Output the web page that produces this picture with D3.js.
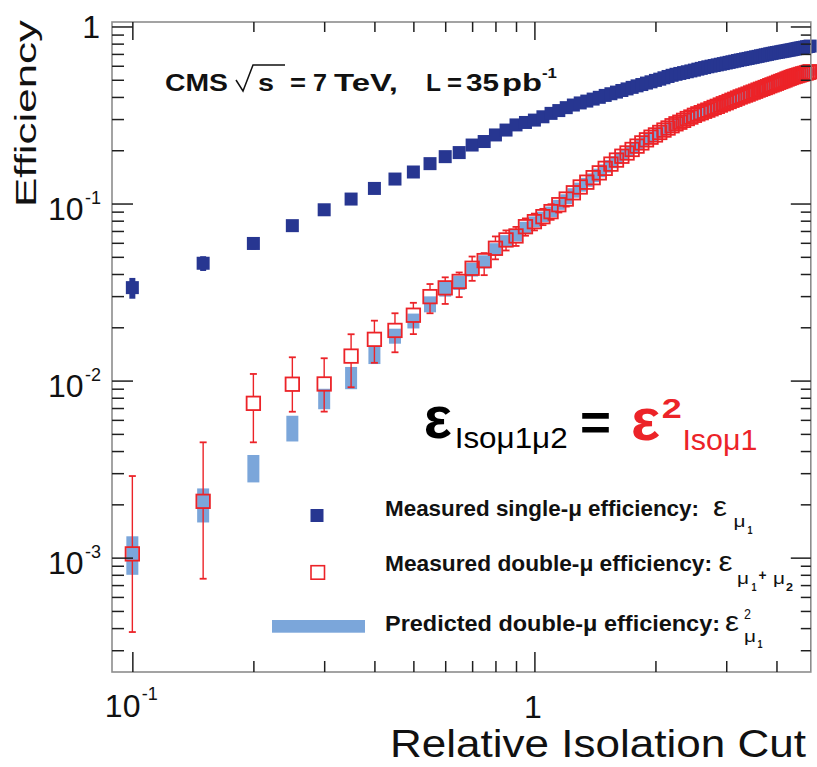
<!DOCTYPE html>
<html>
<head>
<meta charset="utf-8">
<script src="https://cdn.jsdelivr.net/npm/d3@7"></script>
<style>
  html, body { margin: 0; padding: 0; background: #ffffff; }
  svg { display: block; }
  text { font-family: "Liberation Sans", Arial, Helvetica, sans-serif; }
</style>
</head>
<body>
<svg id="chart" width="817" height="767"></svg>
<script>
// Relative isolation cut values (x)
const cutValues = [
  0.10,0.15,0.20,0.25,0.30,0.35,0.40,0.45,0.50,0.55,
  0.60,0.65,0.70,0.75,0.80,0.85,0.90,0.95,1.00,1.05,
  1.10,1.15,1.20,1.25,1.30,1.35,1.40,1.45,1.50,1.55,
  1.60,1.65,1.70,1.75,1.80,1.85,1.90,1.95,2.00,2.05,
  2.10,2.15,2.20,2.25,2.30,2.35,2.40,2.45,2.50,2.55,
  2.60,2.65,2.70,2.75,2.80,2.85,2.90,2.95,3.00,3.05,
  3.10,3.15,3.20,3.25,3.30,3.35,3.40,3.45,3.50,3.55,
  3.60,3.65,3.70,3.75,3.80,3.85,3.90,3.95,4.00,4.05,
  4.10,4.15,4.20,4.25,4.30,4.35,4.40,4.45,4.50,4.55,
  4.60,4.65,4.70,4.75,4.80,4.85
];

// Measured single-muon isolation efficiency
const singleEff = [
  0.0335,0.0460,0.0595,0.0750,0.0922,0.1060,0.1217,0.1375,0.1507,0.1680,
  0.1840,0.1940,0.2140,0.2240,0.2440,0.2600,0.2780,0.2870,0.2960,0.3090,
  0.3230,0.3350,0.3480,0.3600,0.3700,0.3790,0.3890,0.3980,0.4080,0.4170,
  0.4260,0.4350,0.4440,0.4530,0.4620,0.4700,0.4790,0.4870,0.4960,0.5040,
  0.5130,0.5220,0.5300,0.5370,0.5430,0.5490,0.5550,0.5610,0.5670,0.5740,
  0.5800,0.5860,0.5920,0.5970,0.6020,0.6070,0.6120,0.6170,0.6220,0.6270,
  0.6320,0.6370,0.6420,0.6470,0.6510,0.6560,0.6600,0.6650,0.6690,0.6740,
  0.6780,0.6830,0.6870,0.6920,0.6960,0.7010,0.7050,0.7090,0.7130,0.7160,
  0.7200,0.7240,0.7270,0.7310,0.7350,0.7380,0.7420,0.7460,0.7500,0.7540,
  0.7570,0.7610,0.7640,0.7680,0.7710,0.7750
];
const singleErr = [
  0.0045,0.0044,0.0045,0.0048,0.0050,0.0052,0.0054,0.0056,0.0058,0.0060,
  0.0062,0.0063,0.0065,0.0066,0.0068,0.0069,0.0071,0.0072,0.0073,0.0074,
  0.0075,0.0076,0.0077,0.0078,0.0079,0.0080,0.0081,0.0081,0.0082,0.0083,
  0.0083,0.0084,0.0084,0.0085,0.0085,0.0086,0.0086,0.0087,0.0087,0.0087,
  0.0088,0.0088,0.0088,0.0088,0.0089,0.0089,0.0089,0.0089,0.0089,0.0089,
  0.0089,0.0089,0.0089,0.0089,0.0089,0.0089,0.0089,0.0088,0.0088,0.0088,
  0.0088,0.0088,0.0087,0.0087,0.0087,0.0087,0.0086,0.0086,0.0086,0.0085,
  0.0085,0.0085,0.0084,0.0084,0.0083,0.0083,0.0083,0.0082,0.0082,0.0081,
  0.0081,0.0081,0.0080,0.0080,0.0079,0.0079,0.0078,0.0078,0.0077,0.0077,
  0.0076,0.0076,0.0075,0.0075,0.0074,0.0074
];

// Measured double-muon isolation efficiency, with asymmetric errors
const doubleEff = [
  0.00105,0.00208,0.00744,0.00954,0.00957,0.01375,0.0171,0.0192,0.0234,0.0298,
  0.0334,0.0363,0.0431,0.0476,0.0559,0.0623,0.0656,0.0740,0.0790,0.0843,
  0.0900,0.0985,0.1060,0.1150,0.1240,0.1320,0.1400,0.1490,0.1580,0.1670,
  0.1760,0.1850,0.1930,0.2020,0.2110,0.2200,0.2290,0.2370,0.2440,0.2520,
  0.2600,0.2670,0.2750,0.2820,0.2880,0.2950,0.3020,0.3080,0.3150,0.3210,
  0.3260,0.3320,0.3370,0.3430,0.3490,0.3540,0.3600,0.3660,0.3710,0.3770,
  0.3830,0.3880,0.3940,0.4000,0.4050,0.4100,0.4150,0.4210,0.4260,0.4310,
  0.4370,0.4420,0.4470,0.4520,0.4570,0.4630,0.4680,0.4730,0.4780,0.4840,
  0.4890,0.4940,0.4990,0.5050,0.5100,0.5150,0.5200,0.5240,0.5280,0.5320,
  0.5360,0.5400,0.5430,0.5470,0.5510,0.5550
];
const doubleErrLow = [
  0.00067,0.00132,0.00296,0.00287,0.00289,0.00458,0.0045,0.00475,0.0051,0.0058,
  0.0063,0.0067,0.0065,0.0082,0.0075,0.0080,0.0080,0.0082,0.0085,0.0088,
  0.0091,0.0095,0.0099,0.0103,0.0106,0.0110,0.0113,0.0116,0.0119,0.0122,
  0.0125,0.0128,0.0131,0.0134,0.0137,0.0140,0.0143,0.0146,0.0149,0.0151,
  0.0153,0.0155,0.0157,0.0159,0.0161,0.0163,0.0165,0.0167,0.0169,0.0171,
  0.0172,0.0174,0.0175,0.0177,0.0178,0.0180,0.0181,0.0183,0.0184,0.0186,
  0.0187,0.0189,0.0190,0.0192,0.0193,0.0195,0.0196,0.0198,0.0199,0.0200,
  0.0201,0.0202,0.0203,0.0204,0.0205,0.0206,0.0207,0.0208,0.0209,0.0210,
  0.0211,0.0212,0.0213,0.0214,0.0215,0.0216,0.0217,0.0218,0.0219,0.0220,
  0.0221,0.0222,0.0223,0.0224,0.0225,0.0226
];
const doubleErrHigh = [
  0.00184,0.0024,0.00346,0.0040,0.0038,0.00452,0.0047,0.0048,0.0041,0.0053,
  0.0049,0.0045,0.0071,0.0049,0.0093,0.0082,0.0082,0.0084,0.0087,0.0090,
  0.0091,0.0095,0.0099,0.0103,0.0106,0.0110,0.0113,0.0116,0.0119,0.0122,
  0.0125,0.0128,0.0131,0.0134,0.0137,0.0140,0.0143,0.0146,0.0149,0.0151,
  0.0153,0.0155,0.0157,0.0159,0.0161,0.0163,0.0165,0.0167,0.0169,0.0171,
  0.0172,0.0174,0.0175,0.0177,0.0178,0.0180,0.0181,0.0183,0.0184,0.0186,
  0.0187,0.0189,0.0190,0.0192,0.0193,0.0195,0.0196,0.0198,0.0199,0.0200,
  0.0201,0.0202,0.0203,0.0204,0.0205,0.0206,0.0207,0.0208,0.0209,0.0210,
  0.0211,0.0212,0.0213,0.0214,0.0215,0.0216,0.0217,0.0218,0.0219,0.0220,
  0.0221,0.0222,0.0223,0.0224,0.0225,0.0226
];

// Predicted double-muon efficiency (single efficiency squared) with its band
const predictedEff = [
  0.00106,0.00202,0.00323,0.00543,0.00794,0.01044,0.01395,0.0179,0.0218,0.0271,
  0.0330,0.0358,0.0425,0.0470,0.0552,0.0615,0.0660,0.0735,0.0790,0.0843,
  0.0900,0.0985,0.1060,0.1150,0.1240,0.1320,0.1400,0.1490,0.1580,0.1670,
  0.1760,0.1850,0.1930,0.2020,0.2110,0.2200,0.2290,0.2370,0.2440,0.2520,
  0.2600,0.2670,0.2750,0.2820,0.2880,0.2950,0.3020,0.3080,0.3150,0.3210,
  0.3260,0.3320,0.3370,0.3430,0.3490,0.3540,0.3600,0.3660,0.3710,0.3770,
  0.3830,0.3880,0.3940,0.4000,0.4050,0.4100,0.4150,0.4210,0.4260,0.4310,
  0.4370,0.4420,0.4470,0.4520,0.4570,0.4630,0.4680,0.4730,0.4780,0.4840,
  0.4890,0.4940,0.4990,0.5050,0.5100,0.5150,0.5200,0.5240,0.5280,0.5320,
  0.5360,0.5400,0.5430,0.5470,0.5510,0.5550
];
const predictedErr = [
  0.00026,0.00044,0.00057,0.00090,0.00105,0.00150,0.00155,0.00174,0.00210,0.00280,
  0.00320,0.00330,0.00380,0.00400,0.00450,0.00480,0.00500,0.00540,0.00560,0.00580,
  0.0062,0.0064,0.0068,0.0071,0.0073,0.0077,0.0080,0.0083,0.0085,0.0087,
  0.0090,0.0093,0.0096,0.0099,0.0102,0.0105,0.0108,0.0112,0.0115,0.0118,
  0.0121,0.0124,0.0127,0.0130,0.0133,0.0135,0.0138,0.0140,0.0143,0.0145,
  0.0147,0.0150,0.0152,0.0155,0.0158,0.0160,0.0163,0.0165,0.0168,0.0170,
  0.0173,0.0175,0.0178,0.0180,0.0183,0.0185,0.0188,0.0191,0.0193,0.0195,
  0.0198,0.0200,0.0203,0.0205,0.0207,0.0210,0.0212,0.0215,0.0217,0.0220,
  0.0222,0.0224,0.0226,0.0228,0.0231,0.0233,0.0235,0.0237,0.0240,0.0242,
  0.0244,0.0246,0.0248,0.0250,0.0252,0.0254
];

// Axis ticks
const xMajorTicks = [0.1, 1];
const xMinorTicks = [0.2,0.3,0.4,0.5,0.6,0.7,0.8,0.9,2,3,4];
const yMajorTicks = [1e-3, 1e-2, 1e-1, 1];
const yMinorTicks = [3e-4,4e-4,5e-4,6e-4,7e-4,8e-4,9e-4,
                     2e-3,3e-3,4e-3,5e-3,6e-3,7e-3,8e-3,9e-3,
                     2e-2,3e-2,4e-2,5e-2,6e-2,7e-2,8e-2,9e-2,
                     0.2,0.3,0.4,0.5,0.6,0.7,0.8,0.9];
const yTickLabels = [{v:1e-1, exp:"-1"}, {v:1e-2, exp:"-2"}, {v:1e-3, exp:"-3"}];

const COL_SINGLE = "#273691";
const COL_DOUBLE = "#ec2328";
const COL_PRED   = "#7ba6da";

const svg = d3.select("#chart");
const plot = {left: 112, right: 810.8, top: 22, bottom: 672};

const x = d3.scaleLog().domain([0.0890, 4.869]).range([plot.left, plot.right]);
const y = d3.scaleLog().domain([2.26e-4, 1.06]).range([plot.bottom, plot.top]);

const points = cutValues.map((c, i) => ({
  c,
  s: singleEff[i], se: singleErr[i],
  d: doubleEff[i], dl: doubleErrLow[i], dh: doubleErrHigh[i],
  p: predictedEff[i], pe: predictedErr[i]
}));

function label(g, str, px, py, size, o = {}) {
  const t = g.append("text").attr("x", px).attr("y", py)
    .attr("font-size", size).text(str);
  if (o.weight) t.attr("font-weight", o.weight);
  if (o.fill) t.attr("fill", o.fill);
  if (o.family) t.attr("font-family", o.family);
  if (o.anchor) t.attr("text-anchor", o.anchor);
  if (o.width) t.attr("textLength", o.width).attr("lengthAdjust", "spacingAndGlyphs");
  return t;
}

// ---- data ----
const gData = svg.append("g");

// predicted band: filled light-blue boxes
gData.append("g").selectAll("rect").data(points).join("rect")
  .attr("x", d => x(d.c) - 6)
  .attr("width", 12)
  .attr("y", d => y(d.p + d.pe))
  .attr("height", d => y(d.p - d.pe) - y(d.p + d.pe))
  .attr("fill", COL_PRED);

// measured double-muon: error bars outside the open square, then the square
const BOX = 13.5, HB = BOX / 2;
const gErr = gData.append("g").attr("stroke", COL_DOUBLE).attr("fill", "none");
points.forEach(d => {
  const cx = x(d.c), cy = y(d.d);
  const top = y(d.d + d.dh), bot = y(d.d - d.dl);
  if (cy - HB - top > 0.5) {
    gErr.append("line").attr("x1", cx).attr("x2", cx).attr("y1", cy - HB).attr("y2", top).attr("stroke-width", 1.4);
    gErr.append("line").attr("x1", cx - 3.5).attr("x2", cx + 3.5).attr("y1", top).attr("y2", top).attr("stroke-width", 1.8);
  }
  if (bot - (cy + HB) > 0.5) {
    gErr.append("line").attr("x1", cx).attr("x2", cx).attr("y1", cy + HB).attr("y2", bot).attr("stroke-width", 1.4);
    gErr.append("line").attr("x1", cx - 3.5).attr("x2", cx + 3.5).attr("y1", bot).attr("y2", bot).attr("stroke-width", 1.8);
  }
});
gData.append("g").selectAll("rect").data(points).join("rect")
  .attr("x", d => x(d.c) - HB)
  .attr("y", d => y(d.d) - HB)
  .attr("width", BOX).attr("height", BOX)
  .attr("fill", "none")
  .attr("stroke", COL_DOUBLE)
  .attr("stroke-width", 1.8);

// measured single-muon: thick error bar and filled square
gData.append("g").selectAll("rect").data(points).join("rect")
  .attr("x", d => x(d.c) - 3)
  .attr("width", 6)
  .attr("y", d => y(d.s + d.se))
  .attr("height", d => y(d.s - d.se) - y(d.s + d.se))
  .attr("fill", COL_SINGLE);
gData.append("g").selectAll("rect").data(points).join("rect")
  .attr("x", d => x(d.c) - 6.5)
  .attr("y", d => y(d.s) - 6.5)
  .attr("width", 13).attr("height", 13)
  .attr("fill", COL_SINGLE);

// ---- frame and ticks ----
svg.append("rect")
  .attr("x", plot.left).attr("y", plot.top)
  .attr("width", plot.right - plot.left).attr("height", plot.bottom - plot.top)
  .attr("fill", "none").attr("stroke", "#8d8d8d").attr("stroke-width", 1.6);

function tickAxis(axisFn, scale, values, size, transform) {
  svg.append("g").attr("transform", transform)
    .call(axisFn(scale).tickValues(values).tickSize(size).tickFormat(""))
    .call(g => g.select(".domain").remove())
    .call(g => g.selectAll(".tick line").attr("stroke", "#1f1f1f").attr("stroke-width", 1.5));
}
tickAxis(d3.axisRight, y, yMajorTicks, 21, `translate(${plot.left},0)`);
tickAxis(d3.axisRight, y, yMinorTicks, 12, `translate(${plot.left},0)`);
tickAxis(d3.axisLeft,  y, yMajorTicks, 20, `translate(${plot.right},0)`);
tickAxis(d3.axisLeft,  y, yMinorTicks, 10, `translate(${plot.right},0)`);
tickAxis(d3.axisTop,    x, xMajorTicks, 20, `translate(0,${plot.bottom})`);
tickAxis(d3.axisTop,    x, xMinorTicks, 11, `translate(0,${plot.bottom})`);
tickAxis(d3.axisBottom, x, xMajorTicks, 18, `translate(0,${plot.top})`);
tickAxis(d3.axisBottom, x, xMinorTicks, 10, `translate(0,${plot.top})`);

// ---- tick labels ----
const gLab = svg.append("g").attr("fill", "#111");
label(gLab, "1", 100, y(1) + 11.5, 32, {anchor: "end"});
yTickLabels.forEach(t => {
  label(gLab, "10", 48, y(t.v) + 16.4, 32);
  label(gLab, t.exp, 85, y(t.v) + 0.5, 18);
});
label(gLab, "10", x(0.1) - 27.5, 717, 32);
label(gLab, "-1", x(0.1) + 9.5, 700, 18);
label(gLab, "1", x(1) - 1.5, 718, 32, {anchor: "middle"});

// ---- axis titles ----
label(svg, "Relative Isolation Cut", 390, 757, 38, {width: 416, fill: "#111"});
svg.append("text")
  .attr("transform", "translate(36,207) rotate(-90)")
  .attr("font-size", 30).attr("fill", "#111")
  .attr("textLength", 187).attr("lengthAdjust", "spacingAndGlyphs")
  .text("Efficiency");

// ---- experiment label ----
const gTitle = svg.append("g").attr("fill", "#111").attr("font-weight", "bold");
const TB = 90.7, TS = 23.5;
label(gTitle, "CMS", 165, TB, TS, {width: 63});
svg.append("path")
  .attr("d", "M236,80 L243,91 L253,65 L285,65")
  .attr("fill", "none").attr("stroke", "#111").attr("stroke-width", 1.5);
label(gTitle, "s", 258, TB, TS, {width: 16});
label(gTitle, "=", 290, TB, TS, {width: 16});
label(gTitle, "7", 313, TB, TS, {width: 14});
label(gTitle, "TeV,", 334, TB, TS, {width: 64});
label(gTitle, "L", 426, TB, TS, {width: 15});
label(gTitle, "=", 447, TB, TS, {width: 15});
label(gTitle, "35", 466, TB, TS, {width: 33});
label(gTitle, "pb", 502, TB, TS, {width: 40});
label(gTitle, "-1", 542, 77.5, 14, {width: 15});

// ---- factorisation formula ----
const gF = svg.append("g");
label(gF, "ε", 423.8, 438.3, 60, {weight: "bold", fill: "#000", width: 28});
label(gF, "Isoμ1μ2", 454.7, 448.3, 30, {fill: "#000", width: 113});
label(gF, "=", 580, 440, 52, {weight: "bold", fill: "#000", width: 31});
label(gF, "ε", 631, 440, 60, {weight: "bold", fill: COL_DOUBLE, width: 29});
label(gF, "2", 661.8, 418.3, 28.4, {weight: "bold", fill: COL_DOUBLE, width: 20});
label(gF, "Isoμ1", 682.4, 450, 29, {fill: COL_DOUBLE, width: 75});

// ---- legend ----
const gLeg = svg.append("g").attr("fill", "#111");
const SERIF = "'Liberation Serif', 'DejaVu Serif', serif";
gLeg.append("rect").attr("x", 310.5).attr("y", 509).attr("width", 13).attr("height", 13).attr("fill", COL_SINGLE);
label(gLeg, "Measured single-μ efficiency:", 385, 516, 21.5, {weight: "bold", width: 314});
label(gLeg, "ε", 713, 516, 28, {family: SERIF, width: 14});
label(gLeg, "μ", 733.5, 526.5, 17, {family: SERIF, width: 12});
label(gLeg, "1", 747.5, 533.5, 10, {weight: "bold", width: 5});

gLeg.append("rect").attr("x", 311).attr("y", 565.7).attr("width", 13.5).attr("height", 13.5)
  .attr("fill", "none").attr("stroke", COL_DOUBLE).attr("stroke-width", 1.6);
label(gLeg, "Measured double-μ efficiency:", 385, 570.7, 21.5, {weight: "bold", width: 327});
label(gLeg, "ε", 718.4, 570.7, 28, {family: SERIF, width: 14});
label(gLeg, "μ", 737, 583.5, 17, {family: SERIF, width: 12});
label(gLeg, "1", 751.5, 590.5, 10, {weight: "bold", width: 5});
label(gLeg, "+", 758.5, 580, 15, {weight: "bold", width: 8});
label(gLeg, "μ", 773, 583.5, 17, {family: SERIF, width: 12});
label(gLeg, "2", 786, 591, 10, {weight: "bold", width: 7});

gLeg.append("rect").attr("x", 272).attr("y", 620).attr("width", 93).attr("height", 12.7).attr("fill", COL_PRED);
label(gLeg, "Predicted double-μ  efficiency:", 385, 630.7, 21.5, {weight: "bold", width: 335});
label(gLeg, "ε", 725, 630.7, 28, {family: SERIF, width: 14});
label(gLeg, "2", 744, 619.3, 14, {family: SERIF, width: 7});
label(gLeg, "μ", 744, 641.5, 17, {family: SERIF, width: 12});
label(gLeg, "1", 757.5, 648.3, 10, {weight: "bold", width: 5});
</script>
</body>
</html>
